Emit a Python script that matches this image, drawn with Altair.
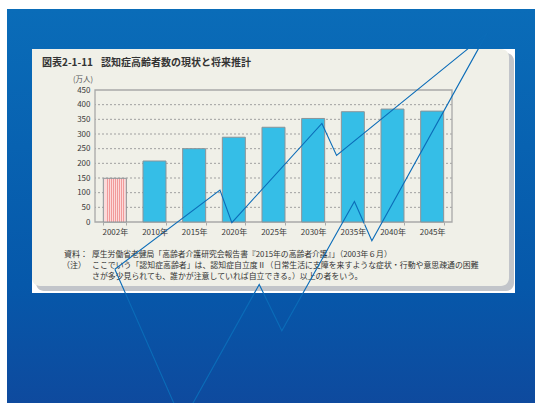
import altair as alt
import pandas as pd

# ---------------- data ----------------
years = ["2002年", "2010年", "2015年", "2020年", "2025年", "2030年", "2035年", "2040年", "2045年"]
counts = [149, 208, 250, 289, 323, 353, 376, 385, 378]
status = ["現状"] + ["推計"] * 8
y_ticks = [0, 50, 100, 150, 200, 250, 300, 350, 400, 450]
grid_vals = [50, 100, 150, 200, 250, 300, 350, 400]

# overlay zigzag line (x in bar-slot units, y in 万人 units)
line_x = [0.50, 3.15, 3.45, 5.72, 6.09, 9.88, 6.98, 6.54, 4.71, 4.14, 2.20, 0.50]
line_y = [-161, 109, -2, 336, 227, 643, -64, 70, -371, -213, -683, -161]
line_seq = list(range(len(line_x)))

title_no = "図表2-1-11"
title_text = "認知症高齢者数の現状と将来推計"
unit_label = "(万人)"
src_head = "資料："
src_text = "厚生労働省老健局「高齢者介護研究会報告書『2015年の高齢者介護』」（2003年６月）"
note_head = "（注）"
note_line1 = "ここでいう「認知症高齢者」は、認知症自立度Ⅱ（日常生活に支障を来すような症状・行動や意思疎通の困難"
note_line2 = "さが多少見られても、誰かが注意していれば自立できる。）以上の者をいう。"

FONT = "Noto Sans CJK JP"
OX, OY = 95, 90          # plot origin in page pixels
W, H = 357, 132          # plot size

one = pd.DataFrame({"a": [0]})
bar_df = pd.DataFrame({"year": years, "count": counts, "status": status})
grid_df = pd.DataFrame({"g": grid_vals})
line_df = pd.DataFrame({"lx": line_x, "ly": line_y, "seq": line_seq})


def box(x0, y0, x1, y1, **kw):
    return alt.Chart(one).mark_rect(**kw).encode(
        x=alt.value(x0 - OX), x2=alt.value(x1 - OX),
        y=alt.value(y0 - OY), y2=alt.value(y1 - OY))


def txt(s, x, y, size=8, weight="normal", align="left", color="#333333"):
    return alt.Chart(one).mark_text(
        align=align, baseline="middle", font=FONT, fontSize=size,
        fontWeight=weight, color=color).encode(
        x=alt.value(x - OX), y=alt.value(y - OY), text=alt.value(s))


blue_grad = alt.Gradient(
    gradient="linear", x1=0, x2=0, y1=0, y2=1,
    stops=[alt.GradientStop(color="#0a6cb8", offset=0),
           alt.GradientStop(color="#0658aa", offset=0.7),
           alt.GradientStop(color="#0e4a9e", offset=1)])

pink, red = "#fcdada", "#f19a9a"
stripe_stops = []
n = 11
for i in range(n):
    a, b, c = i / n, (i + 0.62) / n, (i + 1) / n
    stripe_stops += [alt.GradientStop(color=pink, offset=a),
                     alt.GradientStop(color=pink, offset=b),
                     alt.GradientStop(color=red, offset=b),
                     alt.GradientStop(color=red, offset=c)]
stripe_grad = alt.Gradient(gradient="linear", x1=0, x2=1, y1=0, y2=0, stops=stripe_stops)

bg = box(7, 9, 535, 403, fill=blue_grad)
white = box(32, 49, 515, 293, fill="white")
shadow = box(36, 53, 514, 291, fill="#c2c5ca", cornerRadius=8)
panel = box(32, 49, 509, 286, fill="#f0f0e8", cornerRadiusTopLeft=0,
            cornerRadiusTopRight=8, cornerRadiusBottomLeft=8, cornerRadiusBottomRight=8)

ysc = alt.Scale(domain=[0, 450], nice=False)
xsc = alt.Scale(domain=years, paddingInner=0.42, paddingOuter=0.21)

grid = alt.Chart(grid_df).mark_rule(color="#a0a0a0", strokeDash=[2, 2], strokeWidth=1).encode(
    y=alt.Y("g:Q", scale=ysc, axis=None))

frame = box(OX, OY, OX + W, OY + H, fillOpacity=0, stroke="#a8a8a8", strokeWidth=1.3)

bars = alt.Chart(bar_df).transform_filter(alt.datum.status == "推計").mark_bar(
    color="#35bee7", stroke="#8c9498", strokeWidth=1).encode(
    x=alt.X("year:N", sort=years, scale=xsc,
            axis=alt.Axis(title=None, labelAngle=0, labelFont=FONT, labelFontSize=8,
                          labelColor="#3a3a3a", labelPadding=3, tickSize=3,
                          tickColor="#aaaaaa", tickBand="extent", domain=False, zindex=1)),
    y=alt.Y("count:Q", scale=ysc,
            axis=alt.Axis(title=None, values=y_ticks, labelFont=FONT, labelFontSize=8,
                          labelColor="#3a3a3a", labelPadding=5, ticks=False,
                          domain=False, grid=False, zindex=1)))

bar_now = alt.Chart(bar_df).transform_filter(alt.datum.status == "現状").mark_bar(
    fill=stripe_grad, stroke="#8c9498", strokeWidth=1).encode(
    x=alt.X("year:N", sort=years, scale=xsc, axis=None),
    y=alt.Y("count:Q", scale=ysc, axis=None))

zig = alt.Chart(line_df).mark_line(color="#0b6cb8", strokeWidth=1.1, clip=False).encode(
    x=alt.X("lx:Q", scale=alt.Scale(domain=[0, 9], nice=False, zero=False), axis=None),
    y=alt.Y("ly:Q", scale=ysc, axis=None),
    order="seq:Q")

texts = [
    txt(title_no, 42, 63, size=10, weight="bold"),
    txt(title_text, 101, 63, size=10, weight="bold"),
    txt(unit_label, 93, 80, size=7.5, align="right", color="#555555"),
    txt(src_head, 64, 255, size=8),
    txt(src_text, 92, 255, size=7.8),
    txt(note_head, 62, 266, size=8),
    txt(note_line1, 92, 266, size=7.9),
    txt(note_line2, 92, 276.5, size=7.9),
]

chart = alt.layer(
    bg, white, shadow, panel, grid, frame, bars, bar_now, *texts, zig
).resolve_scale(x="independent", y="independent").properties(
    width=W, height=H,
    padding={"left": OX, "top": OY, "right": 535 - OX - W, "bottom": 403 - OY - H},
    autosize=alt.AutoSizeParams(type="none"),
    background="white",
).configure_view(stroke=None)

chart.save("out.html", embed_options={"renderer": "svg", "actions": False})
